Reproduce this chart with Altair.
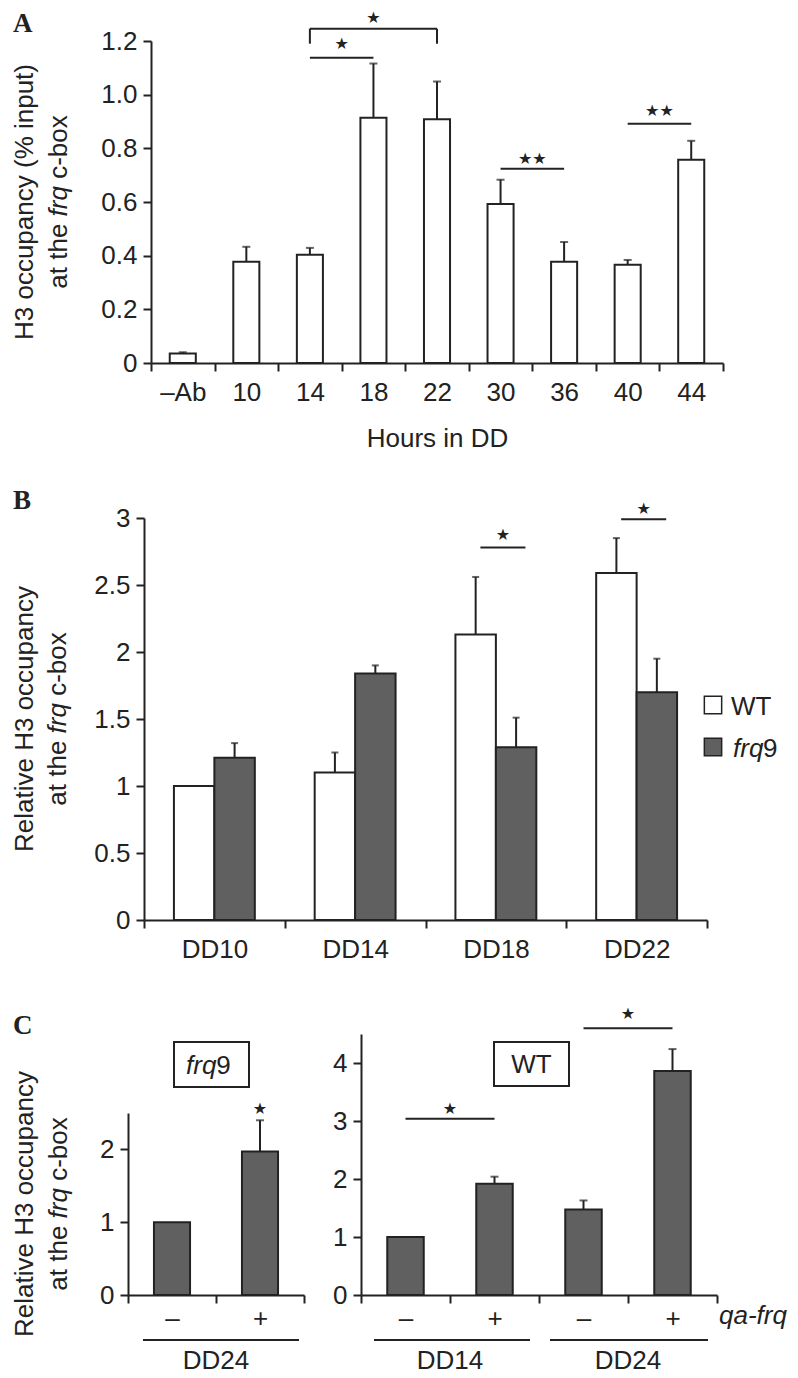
import altair as alt
import pandas as pd

FONT = "Liberation Sans"
SERIF = "Liberation Serif"
STAR_FONT = "DejaVu Sans"
FS = 26
STAR_FS = 16
INK = "#222222"
DARK = "#606060"

# ---------------- data ----------------
panel_labels = ["A", "B", "C"]

# Panel A
a_cats = ["–Ab", "10", "14", "18", "22", "30", "36", "40", "44"]
a_vals = [0.035, 0.377, 0.403, 0.914, 0.908, 0.593, 0.377, 0.366, 0.757]
a_errs = [0.005, 0.056, 0.026, 0.202, 0.141, 0.090, 0.074, 0.018, 0.071]
a_sig_from = ["14", "14", "30", "40"]
a_sig_to = ["18", "22", "36", "44"]
a_sig_y = [1.138, 1.246, 0.724, 0.892]
a_leg_cats = ["14", "22"]
a_leg_y = [1.19, 1.19]
a_star_cats = ["14", "30", "40"]
a_star_y = [1.19, 0.76, 0.94]
a_star_txt = ["★", "★★", "★★"]
a_star2_cats = ["18"]
a_star2_y = [1.285]
a_star2_txt = ["★"]

# Panel B
b_groups = ["DD10", "DD14", "DD18", "DD22"]
b_series = ["WT", "frq9"]
b_wt = [1.00, 1.10, 2.13, 2.59]
b_wt_err = [0.0, 0.15, 0.43, 0.26]
b_frq = [1.21, 1.84, 1.29, 1.70]
b_frq_err = [0.11, 0.06, 0.22, 0.25]
b_sig_groups = ["DD18", "DD22"]
b_sig_y = [2.78, 2.99]
b_star_y = [2.87, 3.07]

# Panel C (left, frq9)
cl_cats = ["–", "+"]
cl_vals = [1.0, 1.97]
cl_errs = [0.0, 0.43]
cl_star_y = [2.56]
cl_group = ["DD24"]
cl_box = "frq9"

# Panel C (right, WT)
cr_groups = ["DD14", "DD14", "DD24", "DD24"]
cr_signs = ["–", "+", "–", "+"]
cr_vals = [1.0, 1.92, 1.475, 3.86]
cr_errs = [0.0, 0.12, 0.155, 0.38]
cr_sig_groups = ["DD14", "DD24"]
cr_sig_y = [3.04, 4.60]
cr_star_y = [3.21, 4.84]
cr_box = "WT"
c_factor = "qa-frq"

y_title_A1 = "H3 occupancy (% input)"
y_title_BC1 = "Relative H3 occupancy"
y_title_2 = ["at the", "frq", "c-box"]   # middle word in italics

# Arial / Liberation Sans advance widths (em) for the pieces of the titles
ADV = {"a": .556, "t": .278, " ": .278, "h": .556, "e": .556, "f": .278, "r": .333,
       "q": .556, "c": .5, "-": .333, "b": .556, "o": .556, "x": .5}


def text_w(s, size=FS):
    return sum(ADV.get(ch, .556) for ch in s) * size


def const_df(**kw):
    return pd.DataFrame({k: [v] for k, v in kw.items()})


def label(text, x, y, size=FS, font=FONT, style="normal", weight="normal",
          align="left", baseline="alphabetic", angle=0):
    return alt.Chart(const_df(t=text)).mark_text(
        font=font, fontSize=size, fontStyle=style, fontWeight=weight,
        align=align, baseline=baseline, color=INK, angle=angle,
    ).encode(text="t:N", x=alt.value(x), y=alt.value(y))


def y_title(line1, x1, x2, ymid):
    """Two-line rotated axis title; 'frq' set in italics."""
    parts = [label(line1, x1, ymid, align="center", angle=270)]
    sp = text_w(" ")
    widths = [text_w(p) for p in y_title_2]
    total = sum(widths) + sp * (len(widths) - 1)
    start = ymid + total / 2
    for i, p in enumerate(y_title_2):
        parts.append(label(p, x2, start, align="left", angle=270,
                           style="italic" if i == 1 else "normal"))
        start -= widths[i] + sp
    return parts


def hline(x1, x2, y):
    return alt.Chart(const_df(s=0)).mark_rule(color=INK, strokeWidth=2).encode(
        x=alt.value(x1), x2=alt.value(x2), y=alt.value(y))


def spacer(w, h):
    return alt.Chart(const_df(s=0)).mark_point(size=0, opacity=0).encode(
        x=alt.X("s:Q", axis=None), y=alt.Y("s:Q", axis=None)
    ).properties(width=w, height=h)


TITLE_X1 = -95
LETTER_X = -115
GROUP_LABEL_Y = 335

# ---------------- Panel A ----------------
A_SHIFT = 23
W_A, H_A = 572 + A_SHIFT, 322
ax_scale = alt.Scale(domain=a_cats, range=[A_SHIFT, W_A], paddingInner=0, paddingOuter=0)
ay_scale = alt.Scale(domain=[0, 1.2], nice=False, zero=True)
dfA = pd.DataFrame({"cat": a_cats, "val": a_vals, "err": a_errs})
dfA["top"] = dfA["val"] + dfA["err"]

a_bar = alt.Chart(dfA).mark_bar(
    fill="white", stroke=INK, strokeWidth=2, width=alt.RelativeBandSize(0.41)
).encode(
    x=alt.X("cat:N", scale=ax_scale, axis=alt.Axis(
        title="Hours in DD", labelAngle=0, tickBand="extent", labelPadding=8,
        titleY=83, titleBaseline="alphabetic")),
    y=alt.Y("val:Q", scale=ay_scale, axis=alt.Axis(
        offset=-A_SHIFT, title=None,
        values=[0, 0.2, 0.4, 0.6, 0.8, 1.0, 1.2],
        labelExpr="datum.value == 0 ? '0' : format(datum.value, '.1f')")),
)
a_err = alt.Chart(dfA).mark_rule(color=INK, strokeWidth=2).encode(
    x=alt.X("cat:N", scale=ax_scale, bandPosition=0.5),
    y=alt.Y("val:Q", scale=ay_scale), y2="top:Q")
a_cap = alt.Chart(dfA).mark_tick(color=INK, size=8, thickness=2).encode(
    x=alt.X("cat:N", scale=ax_scale, bandPosition=0.5),
    y=alt.Y("top:Q", scale=ay_scale))
dfAs = pd.DataFrame({"c1": a_sig_from, "c2": a_sig_to, "y": a_sig_y})
a_sig = alt.Chart(dfAs).mark_rule(color=INK, strokeWidth=2).encode(
    x=alt.X("c1:N", scale=ax_scale, bandPosition=0.5),
    x2=alt.X2("c2:N", bandPosition=0.5),
    y=alt.Y("y:Q", scale=ay_scale))
dfAl = pd.DataFrame({"cat": a_leg_cats, "y1": a_leg_y, "y2": [a_sig_y[1]] * 2})
a_leg = alt.Chart(dfAl).mark_rule(color=INK, strokeWidth=2).encode(
    x=alt.X("cat:N", scale=ax_scale, bandPosition=0.5),
    y=alt.Y("y1:Q", scale=ay_scale), y2="y2:Q")
a_st1 = alt.Chart(pd.DataFrame({"cat": a_star_cats, "y": a_star_y, "t": a_star_txt})).mark_text(
    font=STAR_FONT, fontSize=STAR_FS, color=INK, baseline="middle").encode(
    x=alt.X("cat:N", scale=ax_scale, bandPosition=1),
    y=alt.Y("y:Q", scale=ay_scale), text="t:N")
a_st2 = alt.Chart(pd.DataFrame({"cat": a_star2_cats, "y": a_star2_y, "t": a_star2_txt})).mark_text(
    font=STAR_FONT, fontSize=STAR_FS, color=INK, baseline="middle").encode(
    x=alt.X("cat:N", scale=ax_scale, bandPosition=0.5),
    y=alt.Y("y:Q", scale=ay_scale), text="t:N")
a_let = label(panel_labels[0], LETTER_X, -9, size=27, font=SERIF, weight="bold")

chartA = alt.layer(a_bar, a_err, a_cap, a_sig, a_leg, a_st1, a_st2, a_let,
                   *y_title(y_title_A1, TITLE_X1, -61, 161)).properties(width=W_A, height=H_A)

# ---------------- Panel B ----------------
B_SHIFT = 16
W_B, H_B = 563 + B_SHIFT, 402
bx_scale = alt.Scale(domain=b_groups, range=[B_SHIFT, W_B], paddingInner=0, paddingOuter=0)
bxo_scale = alt.Scale(domain=b_series, paddingInner=0, paddingOuter=0.74)
by_scale = alt.Scale(domain=[0, 3], nice=False)
dfB = pd.DataFrame({
    "grp": b_groups * 2,
    "series": [b_series[0]] * 4 + [b_series[1]] * 4,
    "val": b_wt + b_frq,
    "err": b_wt_err + b_frq_err,
})
dfB["top"] = dfB["val"] + dfB["err"]

b_bar = alt.Chart(dfB).mark_bar(stroke=INK, strokeWidth=2).encode(
    x=alt.X("grp:N", scale=bx_scale, axis=alt.Axis(
        title=None, labelAngle=0, tickBand="extent", labelPadding=8)),
    xOffset=alt.XOffset("series:N", scale=bxo_scale),
    y=alt.Y("val:Q", scale=by_scale, axis=alt.Axis(
        offset=-B_SHIFT, title=None,
        values=[0, 0.5, 1, 1.5, 2, 2.5, 3], format="~g")),
    fill=alt.Fill("series:N", scale=alt.Scale(domain=b_series, range=["white", DARK]), legend=None),
)
b_err = alt.Chart(dfB).transform_filter("datum.err > 0").mark_rule(color=INK, strokeWidth=2).encode(
    x=alt.X("grp:N", scale=bx_scale, bandPosition=0.5),
    xOffset=alt.XOffset("series:N", scale=bxo_scale),
    y=alt.Y("val:Q", scale=by_scale), y2="top:Q")
b_cap = alt.Chart(dfB).transform_filter("datum.err > 0").mark_tick(color=INK, size=7, thickness=2).encode(
    x=alt.X("grp:N", scale=bx_scale, bandPosition=0.5),
    xOffset=alt.XOffset("series:N", scale=bxo_scale),
    y=alt.Y("top:Q", scale=by_scale))
dfBs = pd.DataFrame({"grp": b_sig_groups, "y": b_sig_y, "ys": b_star_y})
b_sig = alt.Chart(dfBs).mark_rule(color=INK, strokeWidth=2).encode(
    x=alt.X("grp:N", scale=bx_scale, bandPosition=0.39),
    x2=alt.X2("grp:N", bandPosition=0.71),
    y=alt.Y("y:Q", scale=by_scale))
b_st = alt.Chart(dfBs).mark_text(font=STAR_FONT, fontSize=STAR_FS, color=INK, baseline="middle", text="★").encode(
    x=alt.X("grp:N", scale=bx_scale, bandPosition=0.55),
    y=alt.Y("ys:Q", scale=by_scale))
b_sq1 = alt.Chart(const_df(s=b_series[0])).mark_square(
    size=300, fill="white", stroke=INK, strokeWidth=1.5, opacity=1).encode(
    x=alt.value(569 + B_SHIFT), y=alt.value(187))
b_sq2 = alt.Chart(const_df(s=b_series[1])).mark_square(
    size=300, fill=DARK, stroke=INK, strokeWidth=1.5, opacity=1).encode(
    x=alt.value(569 + B_SHIFT), y=alt.value(229))
b_l1 = label(b_series[0], 587 + B_SHIFT, 197)
b_l2a = label(b_series[1][:3], 589 + B_SHIFT, 239, style="italic")
b_l2b = label(b_series[1][3:], 619 + B_SHIFT, 239)
b_let = label(panel_labels[1], LETTER_X, -9, size=27, font=SERIF, weight="bold")

chartB = alt.layer(b_bar, b_err, b_cap, b_sig, b_st, b_sq1, b_sq2, b_l1, b_l2a, b_l2b, b_let,
                   *y_title(y_title_BC1, TITLE_X1, -62, 201)).properties(width=W_B, height=H_B)

# ---------------- Panel C (two sub-panels in one view) ----------------
W_C, H_C = 589, 261
CL_W, CL_TOP = 176, 79
CR_X0 = 233

# left (frq9)
clx_scale = alt.Scale(domain=cl_cats, range=[0, CL_W], paddingInner=0, paddingOuter=0)
cly_scale = alt.Scale(domain=[0, 2.5], range=[H_C, CL_TOP], nice=False)
dfCL = pd.DataFrame({"cat": cl_cats, "val": cl_vals, "err": cl_errs})
dfCL["top"] = dfCL["val"] + dfCL["err"]

cl_bar = alt.Chart(dfCL).mark_bar(
    fill=DARK, stroke=INK, strokeWidth=2, width=alt.RelativeBandSize(0.41)).encode(
    x=alt.X("cat:N", scale=clx_scale, axis=alt.Axis(
        orient="bottom", title=None, labelAngle=0, tickBand="extent", labelPadding=2)),
    y=alt.Y("val:Q", scale=cly_scale, axis=alt.Axis(
        orient="left", values=[0, 1, 2], format="~g", title=None)),
)
cl_err = alt.Chart(dfCL).transform_filter("datum.err > 0").mark_rule(color=INK, strokeWidth=2).encode(
    x=alt.X("cat:N", scale=clx_scale, bandPosition=0.5),
    y=alt.Y("val:Q", scale=cly_scale), y2="top:Q")
cl_cap = alt.Chart(dfCL).transform_filter("datum.err > 0").mark_tick(color=INK, size=8, thickness=2).encode(
    x=alt.X("cat:N", scale=clx_scale, bandPosition=0.5),
    y=alt.Y("top:Q", scale=cly_scale))
cl_st = alt.Chart(pd.DataFrame({"cat": [cl_cats[1]], "y": cl_star_y})).mark_text(
    font=STAR_FONT, fontSize=STAR_FS, color=INK, baseline="middle", text="★").encode(
    x=alt.X("cat:N", scale=clx_scale, bandPosition=0.5),
    y=alt.Y("y:Q", scale=cly_scale))
cl_glab = alt.Chart(pd.DataFrame({"cat": [cl_cats[0]], "t": cl_group})).mark_text(
    font=FONT, fontSize=FS, color=INK, baseline="alphabetic").encode(
    x=alt.X("cat:N", scale=clx_scale, bandPosition=1), y=alt.value(GROUP_LABEL_Y), text="t:N")
layerCL = alt.layer(cl_bar, cl_err, cl_cap, cl_st, cl_glab)

# right (WT)
cr_keys = [f"{g}|{s}" for g, s in zip(cr_groups, cr_signs)]
crx_scale = alt.Scale(domain=cr_keys, range=[CR_X0, W_C], paddingInner=0, paddingOuter=0)
cry_scale = alt.Scale(domain=[0, 4.5], range=[H_C, 0], nice=False)
dfCR = pd.DataFrame({"key": cr_keys, "val": cr_vals, "err": cr_errs})
dfCR["top"] = dfCR["val"] + dfCR["err"]

cr_bar = alt.Chart(dfCR).mark_bar(
    fill=DARK, stroke=INK, strokeWidth=2, width=alt.RelativeBandSize(0.41)).encode(
    x=alt.X("key:N", scale=crx_scale, axis=alt.Axis(
        orient="bottom", title=None, labelAngle=0, tickBand="extent", labelPadding=2,
        labelExpr="split(datum.label, '|')[1]")),
    y=alt.Y("val:Q", scale=cry_scale, axis=alt.Axis(
        orient="left", offset=-CR_X0, values=[0, 1, 2, 3, 4], format="~g", title=None)),
)
cr_err = alt.Chart(dfCR).transform_filter("datum.err > 0").mark_rule(color=INK, strokeWidth=2).encode(
    x=alt.X("key:N", scale=crx_scale, bandPosition=0.5),
    y=alt.Y("val:Q", scale=cry_scale), y2="top:Q")
cr_cap = alt.Chart(dfCR).transform_filter("datum.err > 0").mark_tick(color=INK, size=8, thickness=2).encode(
    x=alt.X("key:N", scale=crx_scale, bandPosition=0.5),
    y=alt.Y("top:Q", scale=cry_scale))
dfCRs = pd.DataFrame({
    "k1": [f"{g}|{cr_signs[0]}" for g in cr_sig_groups],
    "k2": [f"{g}|{cr_signs[1]}" for g in cr_sig_groups],
    "y": cr_sig_y, "ys": cr_star_y,
})
cr_sig = alt.Chart(dfCRs).mark_rule(color=INK, strokeWidth=2).encode(
    x=alt.X("k1:N", scale=crx_scale, bandPosition=0.5),
    x2=alt.X2("k2:N", bandPosition=0.5),
    y=alt.Y("y:Q", scale=cry_scale))
cr_st = alt.Chart(dfCRs).mark_text(font=STAR_FONT, fontSize=STAR_FS, color=INK, baseline="middle", text="★").encode(
    x=alt.X("k1:N", scale=crx_scale, bandPosition=1),
    y=alt.Y("ys:Q", scale=cry_scale))
dfCRg = pd.DataFrame({"k": [f"{g}|{cr_signs[0]}" for g in cr_sig_groups], "t": cr_sig_groups})
cr_glab = alt.Chart(dfCRg).mark_text(font=FONT, fontSize=FS, color=INK, baseline="alphabetic").encode(
    x=alt.X("k:N", scale=crx_scale, bandPosition=1), y=alt.value(GROUP_LABEL_Y), text="t:N")
layerCR = alt.layer(cr_bar, cr_err, cr_cap, cr_sig, cr_st, cr_glab)

# annotations for panel C (pixel placement inside the C view)
c_box_l = alt.Chart(const_df(s=0)).mark_rect(fill="white", stroke=INK, strokeWidth=2).encode(
    x=alt.value(46), x2=alt.value(121), y=alt.value(8), y2=alt.value(53))
c_box_l1 = label(cl_box[:3], 58, 40, style="italic")
c_box_l2 = label(cl_box[3:], 58 + text_w("frq"), 40)
c_box_r = alt.Chart(const_df(s=0)).mark_rect(fill="white", stroke=INK, strokeWidth=2).encode(
    x=alt.value(CR_X0 + 133), x2=alt.value(CR_X0 + 208), y=alt.value(8), y2=alt.value(52))
c_box_r1 = label(cr_box, CR_X0 + 170.5, 39, align="center")
c_line1 = hline(15, 171, 306)
c_line2 = hline(CR_X0 + 13, CR_X0 + 169, 306)
c_line3 = hline(CR_X0 + 189, CR_X0 + 347, 306)
c_fac = label(c_factor, CR_X0 + 358, 290, style="italic")
c_let = label(panel_labels[2], LETTER_X, 0, size=27, font=SERIF, weight="bold")
layerCann = alt.layer(c_box_l, c_box_l1, c_box_l2, c_box_r, c_box_r1,
                      c_line1, c_line2, c_line3, c_fac, c_let,
                      *y_title(y_title_BC1, TITLE_X1, -61, 170))

chartC = alt.layer(layerCL, layerCR, layerCann).resolve_scale(
    x="independent", y="independent").resolve_axis(
    x="independent", y="independent").properties(width=W_C, height=H_C)

# ---------------- layout ----------------
chart = alt.vconcat(
    chartA, spacer(10, 155), chartB, spacer(10, 114), chartC, spacing=0, bounds="flush"
).properties(padding={"left": 4, "top": 2, "right": 0, "bottom": 0}).configure_view(
    stroke=None
).configure_axis(
    labelFont=FONT, titleFont=FONT, labelFontSize=FS, titleFontSize=FS,
    titleFontWeight="normal", labelColor=INK, titleColor=INK,
    domainColor=INK, tickColor=INK, domainWidth=2, tickWidth=2, tickSize=8,
    grid=False, labelOverlap=False,
).configure_axisY(labelPadding=6)

chart.save("out.html", embed_options={"renderer": "svg", "actions": False})
